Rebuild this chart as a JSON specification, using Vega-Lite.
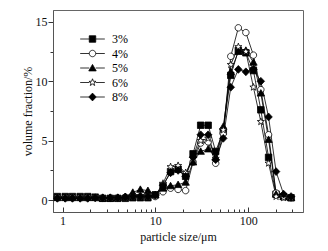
{
  "$schema": "https://vega.github.io/schema/vega-lite/v6.json",
  "width": 250,
  "height": 202,
  "autosize": "none",
  "padding": {"left": 53, "top": 10, "right": 25, "bottom": 39},
  "config": {
    "font": "Liberation Serif",
    "view": {"stroke": "#666", "strokeWidth": 1},
    "axis": {"grid": false, "domainColor": "#555", "tickColor": "#333", "labelColor": "#111", "titleColor": "#111", "labelFont": "Liberation Serif", "titleFont": "Liberation Serif", "labelFontSize": 12, "titleFontSize": 12, "titleFontWeight": "normal"}
  },
  "data": {"values": [
    {"size": 0.88, "3%": 0.3, "4%": 0.2, "5%": 0.2, "6%": 0.2, "8%": 0.15},
    {"size": 1.07, "3%": 0.3, "4%": 0.2, "5%": 0.2, "6%": 0.2, "8%": 0.15},
    {"size": 1.28, "3%": 0.3, "4%": 0.2, "5%": 0.2, "6%": 0.2, "8%": 0.15},
    {"size": 1.55, "3%": 0.3, "4%": 0.2, "5%": 0.2, "6%": 0.2, "8%": 0.15},
    {"size": 1.87, "3%": 0.3, "4%": 0.2, "5%": 0.2, "6%": 0.2, "8%": 0.15},
    {"size": 2.25, "3%": 0.25, "4%": 0.2, "5%": 0.2, "6%": 0.2, "8%": 0.2},
    {"size": 2.71, "3%": 0.15, "4%": 0.15, "5%": 0.15, "6%": 0.15, "8%": 0.2},
    {"size": 3.27, "3%": 0.15, "4%": 0.15, "5%": 0.15, "6%": 0.15, "8%": 0.2},
    {"size": 3.94, "3%": 0.15, "4%": 0.15, "5%": 0.2, "6%": 0.15, "8%": 0.2},
    {"size": 4.75, "3%": 0.15, "4%": 0.25, "5%": 0.3, "6%": 0.25, "8%": 0.25},
    {"size": 5.72, "3%": 0.2, "4%": 0.3, "5%": 0.65, "6%": 0.35, "8%": 0.3},
    {"size": 6.9, "3%": 0.2, "4%": 0.3, "5%": 0.9, "6%": 0.35, "8%": 0.3},
    {"size": 8.32, "3%": 0.2, "4%": 0.3, "5%": 0.8, "6%": 0.35, "8%": 0.3},
    {"size": 10.0, "3%": 0.45, "4%": 0.3, "5%": 0.45, "6%": 0.4, "8%": 0.4},
    {"size": 12.1, "3%": 1.2, "4%": 0.7, "5%": 1.0, "6%": 1.4, "8%": 1.25},
    {"size": 14.6, "3%": 2.4, "4%": 1.0, "5%": 1.2, "6%": 2.8, "8%": 2.3},
    {"size": 17.6, "3%": 2.6, "4%": 0.9, "5%": 1.3, "6%": 2.9, "8%": 2.5},
    {"size": 21.2, "3%": 2.0, "4%": 0.8, "5%": 1.5, "6%": 2.3, "8%": 2.0},
    {"size": 25.5, "3%": 3.9, "4%": 3.2, "5%": 3.2, "6%": 3.5, "8%": 3.6},
    {"size": 30.8, "3%": 6.3, "4%": 4.8, "5%": 4.1, "6%": 5.0, "8%": 5.5},
    {"size": 37.1, "3%": 6.3, "4%": 4.9, "5%": 4.3, "6%": 5.2, "8%": 5.5},
    {"size": 44.7, "3%": 4.1, "4%": 3.1, "5%": 3.6, "6%": 3.5, "8%": 3.4},
    {"size": 54.0, "3%": 5.8, "4%": 5.6, "5%": 6.2, "6%": 5.9, "8%": 5.2},
    {"size": 65.0, "3%": 10.5, "4%": 12.1, "5%": 10.8, "6%": 11.4, "8%": 9.5},
    {"size": 78.4, "3%": 12.6, "4%": 14.5, "5%": 12.5, "6%": 12.9, "8%": 11.0},
    {"size": 94.5, "3%": 12.4, "4%": 14.1, "5%": 12.6, "6%": 12.5, "8%": 10.8},
    {"size": 114, "3%": 10.9, "4%": 12.2, "5%": 11.6, "6%": 9.5, "8%": 11.0},
    {"size": 137, "3%": 7.6, "4%": 9.3, "5%": 9.0, "6%": 6.6, "8%": 10.0},
    {"size": 166, "3%": 3.6, "4%": 5.5, "5%": 5.1, "6%": 3.1, "8%": 7.0},
    {"size": 200, "3%": 0.5, "4%": 0.6, "5%": 0.5, "6%": 0.3, "8%": 2.4},
    {"size": 241, "3%": 0.3, "4%": 0.3, "5%": 0.3, "6%": 0.2, "8%": 0.5},
    {"size": 290, "3%": 0.2, "4%": 0.2, "5%": 0.2, "6%": 0.2, "8%": 0.3}
  ]},
  "transform": [{"fold": ["3%", "4%", "5%", "6%", "8%"], "as": ["series", "value"]}],
  "encoding": {
    "x": {
      "field": "size", "type": "quantitative", "title": "particle size/μm",
      "scale": {"type": "log", "domain": [0.79, 390], "nice": false},
      "axis": {
        "values": [1, 2, 3, 4, 5, 6, 7, 8, 9, 10, 20, 30, 40, 50, 60, 70, 80, 90, 100, 200, 300],
        "format": "~g",
        "labelExpr": "indexof([1, 10, 100], datum.value) >= 0 ? datum.label : ''",
        "tickSize": {"condition": {"test": "indexof([1, 10, 100], datum.value) >= 0", "value": -5}, "value": -3},
        "labelPadding": 8,
        "titlePadding": 5
      }
    },
    "y": {
      "field": "value", "type": "quantitative", "title": "volume fraction/%",
      "scale": {"domain": [-1, 16], "nice": false, "zero": false},
      "axis": {
        "values": [0, 2.5, 5, 7.5, 10, 12.5, 15],
        "labelExpr": "datum.value % 5 === 0 ? datum.label : ''",
        "tickSize": {"condition": {"test": "datum.value % 5 === 0", "value": 5}, "value": 3},
        "labelPadding": 1,
        "titlePadding": 1
      }
    }
  },
  "layer": [
    {
      "mark": {"type": "line", "color": "black", "strokeWidth": 0.8},
      "encoding": {"detail": {"field": "series"}}
    },
    {
      "mark": {"type": "point", "filled": true, "stroke": "black", "strokeWidth": 0.8, "size": 42, "opacity": 1},
      "encoding": {
        "shape": {
          "field": "series", "type": "nominal",
          "scale": {"domain": ["3%", "4%", "5%", "6%", "8%"], "range": [
            "M-1,-1H1V1H-1Z",
            "M-1,0A1,1 0 1,0 1,0A1,1 0 1,0 -1,0Z",
            "M0,-1.1L1.15,0.9H-1.15Z",
            "M0,-1.15L0.276,-0.38L1.094,-0.355L0.447,0.145L0.676,0.93L0,0.47L-0.676,0.93L-0.447,0.145L-1.094,-0.355L-0.276,-0.38Z",
            "M0,-1.2L1.15,0L0,1.2L-1.15,0Z"
          ]},
          "legend": null
        },
        "fill": {
          "field": "series", "type": "nominal",
          "scale": {"domain": ["3%", "4%", "5%", "6%", "8%"], "range": ["black", "white", "black", "white", "black"]},
          "legend": null
        }
      }
    },
    {
      "mark": {"type": "point", "filled": true, "stroke": "black", "strokeWidth": 0.8, "size": 42, "opacity": 0},
      "encoding": {
        "shape": {
          "field": "series", "type": "nominal",
          "scale": {"domain": ["3%", "4%", "5%", "6%", "8%"], "range": [
            "M-3.8,0H-1M1,0H3.8M-1,-1H1V1H-1Z",
            "M-3.8,0H-1M1,0H3.8M-1,0A1,1 0 1,0 1,0A1,1 0 1,0 -1,0Z",
            "M-3.8,0H-1M1,0H3.8M0,-1.1L1.15,0.9H-1.15Z",
            "M-3.8,0H-1M1,0H3.8M0,-1.15L0.276,-0.38L1.094,-0.355L0.447,0.145L0.676,0.93L0,0.47L-0.676,0.93L-0.447,0.145L-1.094,-0.355L-0.276,-0.38Z",
            "M-3.8,0H-1.1M1.1,0H3.8M0,-1.2L1.15,0L0,1.2L-1.15,0Z"
          ]},
          "legend": {
            "orient": "none", "legendX": 33.5, "legendY": 23, "title": null, "padding": 0,
            "symbolSize": 42, "symbolOpacity": 1, "symbolStrokeWidth": 0.8,
            "labelFontSize": 12, "labelFont": "Liberation Serif", "labelColor": "black", "labelOffset": 13.5, "rowPadding": 2.5
          }
        },
        "fill": {
          "field": "series", "type": "nominal",
          "scale": {"domain": ["3%", "4%", "5%", "6%", "8%"], "range": ["black", "white", "black", "white", "black"]},
          "legend": {
            "orient": "none", "legendX": 33.5, "legendY": 23, "title": null, "padding": 0,
            "symbolSize": 42, "symbolOpacity": 1, "symbolStrokeWidth": 0.8,
            "labelFontSize": 12, "labelFont": "Liberation Serif", "labelColor": "black", "labelOffset": 13.5, "rowPadding": 2.5
          }
        }
      }
    }
  ],
  "resolve": {"scale": {"shape": "independent", "fill": "independent"}}
}
